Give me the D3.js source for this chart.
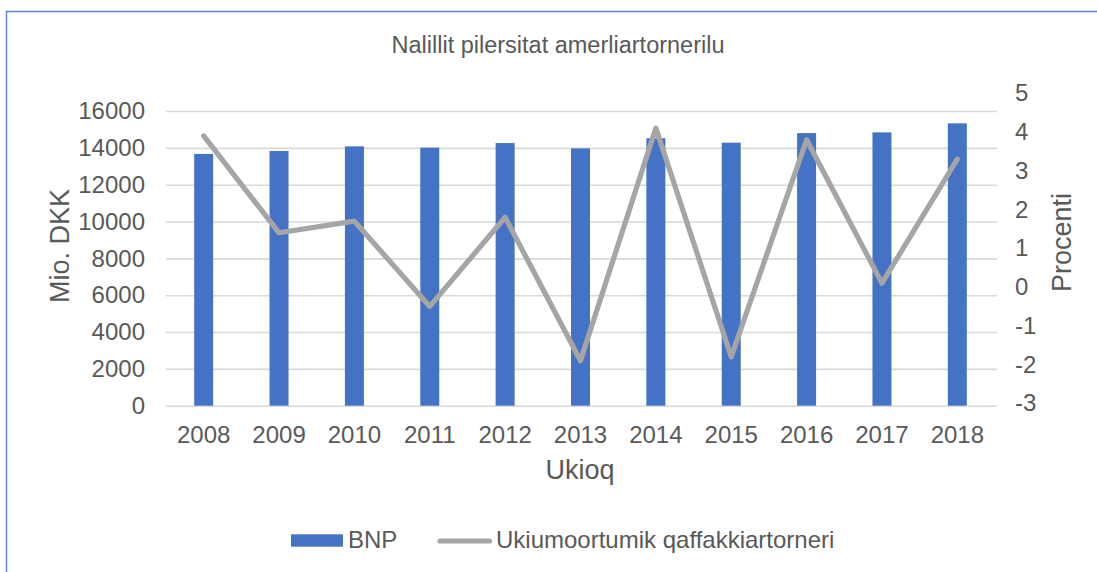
<!DOCTYPE html>
<html>
<head>
  <meta charset="utf-8">
  <title>Nalillit pilersitat amerliartornerilu</title>
  <script type="text/javascript" src="https://d3js.org/d3.v7.min.js"></script>
  <style>
    body { margin: 0; background: #fff; }
    svg text { font-family: "Liberation Sans", Arial, sans-serif; fill: #595959; }
  </style>
</head>
<body>
  <div class="chart"></div>

  <script type="text/javascript">
    // data
    const years = ["2008", "2009", "2010", "2011", "2012", "2013", "2014", "2015", "2016", "2017", "2018"];
    const bnp = [13670, 13830, 14080, 14010, 14260, 13970, 14520, 14280, 14800, 14840, 15330];
    const growth = [3.9, 1.4, 1.7, -0.5, 1.8, -1.9, 4.1, -1.8, 3.8, 0.1, 3.3];
    const leftTicks = [0, 2000, 4000, 6000, 8000, 10000, 12000, 14000, 16000];
    const rightTicks = [-3, -2, -1, 0, 1, 2, 3, 4, 5];

    const width = 1097;
    const height = 572;
    const plot = {left: 166, right: 995, top: 111, bottom: 405.7};

    const barColor = "#4472C4";
    const lineColor = "#A5A5A5";
    const gridColor = "#D9D9D9";

    const svg = d3.select(".chart")
      .append("svg")
      .attr("width", width)
      .attr("height", height);

    // outer chart border (runs off the right and bottom edges)
    svg.append("rect")
      .attr("x", 6.5)
      .attr("y", 11.5)
      .attr("width", 1200)
      .attr("height", 700)
      .attr("fill", "none")
      .attr("stroke", "#5A86D2")
      .attr("stroke-width", 1.5);

    const xScale = d3.scaleBand()
      .domain(years)
      .range([plot.left, plot.right])
      .paddingInner(0.748)
      .paddingOuter(0.374);

    const yLeft = d3.scaleLinear()
      .domain([0, 16000])
      .range([plot.bottom, plot.top]);

    // the right axis labels sit a little off the gridlines in the original
    const yRight = d3.scaleLinear()
      .domain([-3, 5])
      .range([403.3, 93.3]);

    const plain = d => String(d);

    // gridlines
    const grid = d3.axisLeft(yLeft)
      .tickValues(leftTicks)
      .tickSize(-(plot.right - plot.left + 2))
      .tickFormat("");

    svg.append("g")
      .attr("class", "grid")
      .attr("transform", `translate(${plot.left}, 0)`)
      .call(grid)
      .call(g => g.select(".domain").remove())
      .call(g => g.selectAll("line").attr("stroke", gridColor).attr("stroke-width", 1.6));

    // left axis labels
    svg.append("g")
      .attr("class", "axis y-left")
      .attr("transform", `translate(${plot.left}, 0)`)
      .call(d3.axisLeft(yLeft).tickValues(leftTicks).tickFormat(plain).tickSize(0).tickPadding(21))
      .call(g => g.select(".domain").remove())
      .call(g => g.selectAll("text").style("font-size", "24px").attr("fill", "#595959"));

    // right axis labels
    svg.append("g")
      .attr("class", "axis y-right")
      .attr("transform", `translate(${plot.right}, 0)`)
      .call(d3.axisRight(yRight).tickValues(rightTicks).tickFormat(plain).tickSize(0).tickPadding(20))
      .call(g => g.select(".domain").remove())
      .call(g => g.selectAll("text").style("font-size", "24px").attr("fill", "#595959"));

    // x axis labels
    svg.append("g")
      .attr("class", "axis x-axis")
      .attr("transform", `translate(0, ${plot.bottom})`)
      .call(d3.axisBottom(xScale).tickSize(0).tickPadding(20))
      .call(g => g.select(".domain").remove())
      .call(g => g.selectAll("text").style("font-size", "24px").attr("fill", "#595959"));

    // bars
    svg.selectAll(".bar")
      .data(bnp)
      .enter()
      .append("rect")
      .attr("class", "bar")
      .attr("x", (d, i) => xScale(years[i]))
      .attr("y", d => yLeft(d))
      .attr("width", xScale.bandwidth())
      .attr("height", d => yLeft(0) - yLeft(d))
      .attr("fill", barColor);

    // growth line
    const line = d3.line()
      .x((d, i) => xScale(years[i]) + xScale.bandwidth() / 2)
      .y(d => yRight(d));

    svg.append("path")
      .datum(growth)
      .attr("d", line)
      .attr("fill", "none")
      .attr("stroke", lineColor)
      .attr("stroke-width", 5.2)
      .attr("stroke-linejoin", "round")
      .attr("stroke-linecap", "round");

    // titles
    svg.append("text")
      .attr("x", 558)
      .attr("y", 53)
      .attr("text-anchor", "middle")
      .style("font-size", "23.5px")
      .text("Nalillit pilersitat amerliartornerilu");

    svg.append("text")
      .attr("transform", "translate(69, 246) rotate(-90)")
      .attr("text-anchor", "middle")
      .style("font-size", "27px")
      .text("Mio. DKK");

    svg.append("text")
      .attr("transform", "translate(1071, 242.5) rotate(-90)")
      .attr("text-anchor", "middle")
      .style("font-size", "27px")
      .text("Procenti");

    svg.append("text")
      .attr("x", 580)
      .attr("y", 479)
      .attr("text-anchor", "middle")
      .style("font-size", "27px")
      .text("Ukioq");

    // legend
    const legend = svg.append("g").attr("class", "legend");

    legend.append("rect")
      .attr("x", 291)
      .attr("y", 534.3)
      .attr("width", 52)
      .attr("height", 12.4)
      .attr("fill", barColor);

    legend.append("text")
      .attr("x", 348)
      .attr("y", 547.7)
      .style("font-size", "24px")
      .text("BNP");

    legend.append("line")
      .attr("x1", 440)
      .attr("x2", 489.5)
      .attr("y1", 541)
      .attr("y2", 541)
      .attr("stroke", lineColor)
      .attr("stroke-width", 5.2)
      .attr("stroke-linecap", "round");

    legend.append("text")
      .attr("x", 496)
      .attr("y", 547.7)
      .style("font-size", "24px")
      .text("Ukiumoortumik qaffakkiartorneri");
  </script>
</body>
</html>
